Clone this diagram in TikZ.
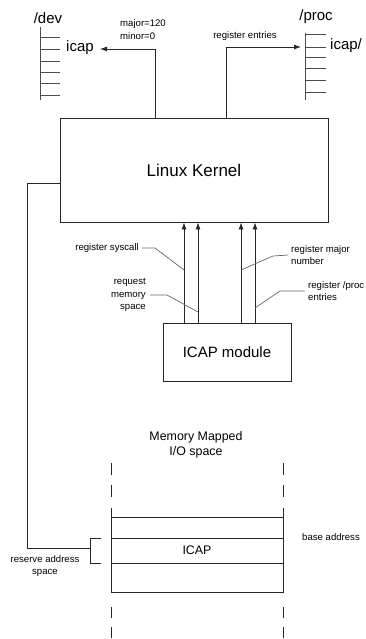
\documentclass[tikz,border=0pt]{standalone}
\usepackage{fontspec}
\setmainfont{Liberation Sans}
\usetikzlibrary{arrows.meta,calc}
\begin{document}
\begin{tikzpicture}[x=1pt,y=-1pt,
  line/.style={draw=black!85,line width=0.8pt},
  leader/.style={draw=black!60,line width=0.7pt},
  tick/.style={draw=black!70,line width=0.8pt},
  tip/.style={-{Latex[length=7pt,width=5pt]}},
  small/.style={font=\fontsize{9.6}{12.5}\selectfont,inner sep=0pt},
  mid/.style={font=\fontsize{12.4}{15}\selectfont,inner sep=0pt},
  big/.style={font=\fontsize{15}{16}\selectfont,inner sep=0pt},
  boxed/.style={draw=black!85,line width=0.9pt,inner sep=0pt}]
\useasboundingbox (0,0) rectangle (366,639);
% boxes
\node[boxed,minimum width=268pt,minimum height=104pt,font=\fontsize{17}{19}\selectfont] (kernel) at (194,170) {Linux Kernel};
\node[boxed,minimum width=128pt,minimum height=58pt,font=\fontsize{15}{17}\selectfont] (module) at (227,352) {ICAP module};
% /dev list
\node[big] (dev) at (48,18) {/dev};
\coordinate (devtop) at (40,27);
\coordinate (devbot) at (40,100);
\draw[tick] (devtop) -- (devbot);
\foreach \y in {37,49,61,72,83,95} \draw[tick] (40,\y) -- (60,\y);
\node[big,anchor=west] (icapdev) at (66,48) {icap};
\coordinate (ax1) at (155,0);
\coordinate (devtip) at (100,49);
\draw[line,tip] (kernel.north -| ax1) |- (devtip);
\node[small,align=left,anchor=west] (majmin) at (120,29.5) {major=120\\minor=0};
% /proc list
\node[big] (proc) at (316,17) {/proc};
\coordinate (proctop) at (305,33);
\coordinate (procbot) at (305,100);
\draw[tick] (proctop) -- (procbot);
\foreach \y in {34,47,57,68,80,92} \draw[tick] (305,\y) -- (326,\y);
\node[big,anchor=west] (icapproc) at (330,46) {icap/};
\coordinate (ax2) at (226,0);
\coordinate (proctip) at (301,47);
\draw[line,tip] (kernel.north -| ax2) |- (proctip);
\node[small] (regent) at (245,36) {register entries};
% arrows module -> kernel
\foreach \n/\x in {c1/184,c2/198,c3/241,c4/255}{
  \coordinate (\n) at (\x,323);
  \draw[line,tip] (module.north -| \n) -- (kernel.south -| \n);
}
% leaders
\node[small,anchor=east] (lsys) at (139,248) {register syscall};
\draw[leader] (lsys.east) ++(3,0) -- (155,248) -- (184,270);
\node[small,anchor=east,align=right] (lmem) at (146,295) {request\\memory\\space};
\draw[leader] (lmem.east) ++(4,0) -- (167,295) -- (198,312);
\node[small,anchor=west,align=left] (lmaj) at (291,255) {register major\\number};
\draw[leader] (lmaj.west) ++(-3,0) -- (273,256) -- (241,270);
\node[small,anchor=west,align=left] (lproc) at (308,291) {register /proc\\entries};
\draw[leader] (lproc.west) ++(-3,0) -- (280,291) -- (255,308);
% memory mapped I/O space
\node[mid,align=center] (mmtitle) at (196,445) {Memory Mapped\\I/O space};
\foreach \x in {111,283}{
  \draw[line] (\x,463) -- (\x,475);
  \draw[line] (\x,485) -- (\x,497);
  \draw[line] (\x,508) -- (\x,593);
  \draw[line] (\x,607) -- (\x,618);
  \draw[line] (\x,627) -- (\x,638);
}
\foreach \y in {517,538,563,592} \draw[line] (111,\y) -- (283,\y);
\node[mid] (icapmem) at (197,550) {ICAP};
\node[small,anchor=west] (base) at (302,537) {base address};
% bracket and reserve line
\coordinate (b1) at (101,538);
\coordinate (b2) at (101,563);
\coordinate (bm) at (90,548);
\coordinate (kl) at (0,183);
\draw[line] (b1) -- (90,538) -- (90,563) -- (b2);
\draw[line] (bm) -- (27,548) -- (27,183) -- (kernel.west |- kl);
\node[small,align=center] (reserve) at (45,566) {reserve address\\space};
\end{tikzpicture}
\end{document}
